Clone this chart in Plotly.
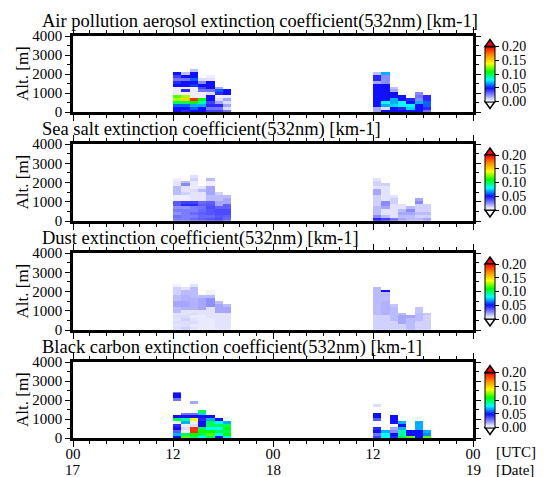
import numpy as np
import plotly.graph_objects as go

# ---------------- data ----------------
HOURS = list(range(48))            # hourly bins starting 00 UTC on the 17th
ALT_BIN = 150                      # m
N_ROWS = 16
ALTS = [ALT_BIN * k + ALT_BIN / 2 for k in range(N_ROWS)]
DAY1_START = 12                    # first profile column: 12 UTC 17th
DAY2_START = 36                    # first profile column: 12 UTC 18th

TITLES = [
    "Air pollution aerosol extinction coefficient(532nm) [km-1]",
    "Sea salt extinction coefficient(532nm) [km-1]",
    "Dust extinction coefficient(532nm) [km-1]",
    "Black carbon extinction coefficient(532nm) [km-1]",
]
X_TICKVALS = [0, 12, 24, 36, 48]
X_TICKTEXT = ["00", "12", "00", "12", "00"]
DATE_VALS = [0, 24, 48]
DATE_TEXT = ["17", "18", "19"]
Y_TICKVALS = [0, 1000, 2000, 3000, 4000]
CB_TICKVALS = [0.0, 0.05, 0.10, 0.15, 0.20]
CB_TICKTEXT = ["0.00", "0.05", "0.10", "0.15", "0.20"]

N = None
# each inner list: one hourly column, values from the lowest bin upward
AP_D17 = [
    [0.05, 0.05, 0.06, 0.10, 0.13, 0.12, 0.005, 0.005, 0.005, 0.05, 0.045, 0.03, 0.04, 0.05],
    [0.045, 0.05, 0.06, 0.10, 0.15, 0.13, 0.005, 0.045, 0.005, 0.05, 0.05, 0.03, 0.05, 0.015],
    [0.05, 0.06, 0.07, 0.11, 0.19, 0.005, 0.005, 0.005, 0.005, 0.055, 0.05, 0.06, 0.05, 0.05, 0.015],
    [0.05, 0.05, 0.07, 0.09, 0.11, 0.005, 0.005, 0.03, 0.04, 0.05, 0.025, 0.01],
    [0.04, 0.03, 0.045, 0.04, 0.05, 0.05, 0.01, 0.03, 0.05, 0.05, 0.05, 0.008, 0.005],
    [0.04, 0.03, 0.045, 0.02, 0.01, 0.005, 0.045, 0.06, 0.02],
    [0.03, 0.01, 0.02, 0.01, 0.02, 0.005, 0.05, 0.05],
]
AP_D18 = [
    [0.02, 0.02, 0.05, 0.05, 0.05, 0.05, 0.05, 0.05, 0.05, 0.05, 0.02, 0.045, 0.045, 0.015],
    [0.05, 0.01, 0.07, 0.08, 0.05, 0.05, 0.05, 0.05, 0.05, 0.05, 0.025, 0.025, 0.025, 0.07],
    [0.05, 0.05, 0.075, 0.07, 0.07, 0.05, 0.05, 0.02, 0.015],
    [0.05, 0.045, 0.08, 0.08, 0.05, 0.05],
    [0.05, 0.075, 0.08, 0.05, 0.045],
    [0.05, 0.05, 0.05, 0.07, 0.025, 0.03, 0.025],
    [0.03, 0.045, 0.06, 0.06, 0.045, 0.045],
]
SS_D17 = [
    [0.028, 0.03, 0.024, 0.028, 0.024, 0.035, 0.035, 0.005, 0.005, 0.016, 0.016, 0.016, 0.008, 0.008, 0.005],
    [0.028, 0.028, 0.028, 0.028, 0.024, 0.045, 0.04, 0.005, 0.005, 0.012, 0.008, 0.008, 0.025, 0.016],
    [0.032, 0.028, 0.032, 0.028, 0.028, 0.045, 0.04, 0.008, 0.008, 0.008, 0.01, 0.006, 0.006, 0.006, 0.012, 0.008],
    [0.034, 0.032, 0.034, 0.032, 0.03, 0.035, 0.032, 0.008, 0.008, 0.008, 0.016, 0.008],
    [0.036, 0.032, 0.036, 0.036, 0.038, 0.036, 0.034, 0.016, 0.016, 0.02, 0.02, 0.02, 0.005, 0.005, 0.016],
    [0.038, 0.036, 0.038, 0.038, 0.034, 0.02, 0.02, 0.016, 0.016, 0.012],
    [0.032, 0.034, 0.038, 0.038, 0.034, 0.034, 0.02, 0.02, 0.016],
]
SS_D18 = [
    [0.045, 0.025, 0.016, 0.016, 0.016, 0.012, 0.012, 0.012, 0.012, 0.02, 0.02, 0.008, 0.012, 0.012, 0.008],
    [0.04, 0.016, 0.008, 0.008, 0.02, 0.025, 0.025, 0.008, 0.008, 0.008, 0.008, 0.008, 0.012],
    [0.03, 0.008, 0.008, 0.008, 0.008, 0.008, 0.012, 0.012, 0.008],
    [0.02, 0.016, 0.02, 0.016, 0.008, 0.008],
    [0.016, 0.016, 0.02, 0.025, 0.016],
    [0.016, 0.012, 0.016, 0.012, 0.012, 0.012, 0.025, 0.02],
    [0.02, 0.012, 0.016, 0.012, 0.012, 0.012],
]
DU_D17 = [
    [0.01, 0.008, 0.01, 0.008, 0.01, 0.008, 0.016, 0.016, 0.02, 0.02, 0.016, 0.016, 0.012, 0.012, 0.012, 0.004],
    [0.012, 0.01, 0.01, 0.012, 0.01, 0.008, 0.008, 0.018, 0.02, 0.02, 0.018, 0.018, 0.016, 0.016, 0.008],
    [0.008, 0.006, 0.01, 0.008, 0.006, 0.01, 0.008, 0.018, 0.018, 0.018, 0.018, 0.016, 0.016, 0.016, 0.016, 0.008],
    [0.006, 0.006, 0.006, 0.006, 0.006, 0.008, 0.008, 0.02, 0.02, 0.02, 0.02, 0.016],
    [0.006, 0.006, 0.006, 0.006, 0.008, 0.008, 0.008, 0.008, 0.024, 0.024, 0.024, 0.016, 0.004, 0.004],
    [0.008, 0.008, 0.008, 0.008, 0.008, 0.008, 0.02, 0.02, 0.02, 0.016],
    [0.008, 0.008, 0.008, 0.008, 0.008, 0.008, 0.02, 0.02, 0.016],
]
DU_D18 = [
    [0.012, 0.012, 0.012, 0.012, 0.012, 0.016, 0.016, 0.016, 0.016, 0.016, 0.016, 0.016, 0.016, 0.016, 0.016],
    [0.012, 0.012, 0.012, 0.012, 0.012, 0.018, 0.018, 0.018, 0.018, 0.018, 0.016, 0.016, 0.016, 0.05],
    [0.012, 0.012, 0.012, 0.016, 0.016, 0.016, 0.016, 0.016, 0.014],
    [0.012, 0.012, 0.02, 0.02, 0.02, 0.016],
    [0.016, 0.016, 0.016, 0.016, 0.02],
    [0.012, 0.012, 0.012, 0.016, 0.016, 0.016, 0.014, 0.014],
    [0.012, 0.012, 0.012, 0.012, 0.012, 0.014],
]
BC_D17 = [
    [0.05, 0.07, 0.035, 0.05, 0.045, 0.005, 0.10, 0.05, N, N, N, N, N, 0.03, 0.05, 0.05],
    [0.12, 0.10, 0.005, 0.01, 0.005, 0.07, 0.09, 0.05, 0.03],
    [0.10, 0.11, 0.19, 0.19, 0.01, 0.005, 0.14, 0.05, 0.03, N, N, N, 0.02],
    [0.08, 0.10, 0.11, 0.10, 0.05, 0.05, 0.045, 0.05, 0.075, 0.10],
    [0.10, 0.12, 0.11, 0.08, 0.10, 0.10, 0.07, 0.05],
    [0.05, 0.08, 0.10, 0.08, 0.10, 0.08, 0.05],
    [0.08, 0.11, 0.10, 0.11, 0.10, 0.07],
]
BC_D18 = [
    [0.04, 0.03, 0.05, 0.045, N, N, 0.035, 0.05, 0.05, N, N, 0.01],
    [0.08, 0.08, 0.07],
    [0.045, 0.05, 0.025, 0.02, N, 0.05, 0.05, 0.05],
    [0.10, 0.09, 0.09, 0.07, 0.05, 0.07],
    [0.12, 0.05, 0.05],
    [0.05, 0.05, 0.05, 0.07, 0.07, 0.07],
    [0.12, 0.065, 0.07],
]
PANELS = [(AP_D17, AP_D18), (SS_D17, SS_D18), (DU_D17, DU_D18), (BC_D17, BC_D18)]

# ---------------- styling ----------------
SERIF = "Liberation Serif"
W, H = 552, 477
ML, MR, MT, MB = 73, 79, 36, 39
PW, PH = W - ML - MR, H - MT - MB
PANEL_PX = [(36, 112), (144, 221), (253, 330), (362, 438)]   # top, bottom (pixels)

COLORSCALE = [
    [0.00, "#ffffff"],
    [0.05, "#dcdcff"],
    [0.12, "#9090ff"],
    [0.25, "#1010ff"],
    [0.40, "#00ffff"],
    [0.55, "#00ff00"],
    [0.70, "#ffff00"],
    [0.85, "#ff8c00"],
    [1.00, "#ff0000"],
]


def py2paper(py):
    return (H - MB - py) / PH


def px2paper(px):
    return (px - ML) / PW


def build_grid(day1, day2):
    z = np.full((N_ROWS, len(HOURS)), np.nan)
    for start, cols in ((DAY1_START, day1), (DAY2_START, day2)):
        for j, col in enumerate(cols):
            for k, v in enumerate(col):
                if v is not None:
                    z[k, start + j] = v
    return z


fig = go.Figure()
x_centers = [h + 0.5 for h in HOURS]
CB_X0, CB_X1 = 485, 495
CB_LEN = 55
shapes = []
annotations = []

for i, (d1, d2) in enumerate(PANELS):
    top, bot = PANEL_PX[i]
    y0, y1 = py2paper(bot), py2paper(top)
    ymid = (y0 + y1) / 2
    ax = "" if i == 0 else str(i + 1)
    fig.add_trace(go.Heatmap(
        x=x_centers, y=ALTS, z=build_grid(d1, d2),
        zmin=0, zmax=0.2, colorscale=COLORSCALE, zsmooth=False,
        hoverongaps=False,
        xaxis="x" + ax, yaxis="y" + ax,
        colorbar=dict(
            x=px2paper(CB_X0), xanchor="left", xpad=0, ypad=0,
            y=ymid, yanchor="middle", len=CB_LEN, lenmode="pixels",
            thickness=CB_X1 - CB_X0, thicknessmode="pixels",
            outlinecolor="black", outlinewidth=1,
            tickvals=CB_TICKVALS, ticktext=CB_TICKTEXT,
            ticks="outside", ticklen=4, tickcolor="black", tickwidth=1,
            tickfont=dict(family=SERIF, size=14, color="black"),
        ),
    ))
    common = dict(
        showline=True, linecolor="black", linewidth=2.5, mirror="ticks",
        ticks="outside", tickcolor="black", tickwidth=1,
        showgrid=False, zeroline=False, automargin=False,
    )
    fig.layout["xaxis" + ax] = dict(
        common, domain=[0, 1], anchor="y" + ax, range=[0, 48],
        tickvals=X_TICKVALS, ticktext=X_TICKTEXT, ticklen=6,
        showticklabels=(i == 3), ticklabelstandoff=-6,
        tickfont=dict(family=SERIF, size=15, color="black"),
        minor=dict(dtick=2, tick0=0, ticks="outside", ticklen=3, tickcolor="black", tickwidth=1),
    )
    fig.layout["yaxis" + ax] = dict(
        common, domain=[y0, y1], anchor="x" + ax, range=[0, 4000],
        tickvals=Y_TICKVALS, ticklen=5,
        tickfont=dict(family=SERIF, size=15, color="black"),
        minor=dict(dtick=500, tick0=0, ticks="outside", ticklen=3, tickcolor="black", tickwidth=1),
    )
    # panel title
    annotations.append(dict(
        text=TITLES[i], xref="paper", yref="paper", x=px2paper(40), y=y1,
        xanchor="left", yanchor="middle", yshift=15, showarrow=False,
        font=dict(family=SERIF, size=18.5, color="black"),
    ))
    annotations.append(dict(
        text="Alt. [m]", xref="paper", yref="paper", x=px2paper(22), y=ymid,
        xanchor="center", yanchor="middle", textangle=-90, showarrow=False,
        font=dict(family=SERIF, size=17, color="black"),
    ))
    # colourbar end triangles
    cb_top_px = (top + bot) / 2 - CB_LEN / 2
    cb_bot_px = (top + bot) / 2 + CB_LEN / 2
    xa, xb, xc = px2paper(CB_X0), px2paper(CB_X1), px2paper((CB_X0 + CB_X1) / 2)
    ta, tt = py2paper(cb_top_px), py2paper(cb_top_px - 7)
    ba, bt = py2paper(cb_bot_px), py2paper(cb_bot_px + 7)
    shapes.append(dict(type="path", xref="paper", yref="paper",
                       path=f"M {xa} {ta} L {xb} {ta} L {xc} {tt} Z",
                       fillcolor="#ff0000", line=dict(color="black", width=1.5)))
    shapes.append(dict(type="path", xref="paper", yref="paper",
                       path=f"M {xa} {ba} L {xb} {ba} L {xc} {bt} Z",
                       fillcolor="#ffffff", line=dict(color="black", width=1.5)))

# date row under the UTC hour labels
for v, t in zip(DATE_VALS, DATE_TEXT):
    annotations.append(dict(text=t, xref="x4", yref="paper", x=v, y=py2paper(470),
                            xanchor="center", yanchor="middle", showarrow=False,
                            font=dict(family=SERIF, size=15, color="black")))
annotations.append(dict(text="[UTC]", xref="paper", yref="paper", x=px2paper(494), y=py2paper(452),
                        xanchor="left", yanchor="middle", showarrow=False,
                        font=dict(family=SERIF, size=15, color="black")))
annotations.append(dict(text="[Date]", xref="paper", yref="paper", x=px2paper(494), y=py2paper(470),
                        xanchor="left", yanchor="middle", showarrow=False,
                        font=dict(family=SERIF, size=15, color="black")))

fig.update_layout(
    width=W, height=H, margin=dict(l=ML, r=MR, t=MT, b=MB),
    paper_bgcolor="white", plot_bgcolor="white",
    annotations=annotations, shapes=shapes, showlegend=False,
    font=dict(family=SERIF, color="black"),
)
fig.write_html("out.html", config={"displayModeBar": False},
               post_script="document.body.style.margin='0';document.body.style.padding='0';")
